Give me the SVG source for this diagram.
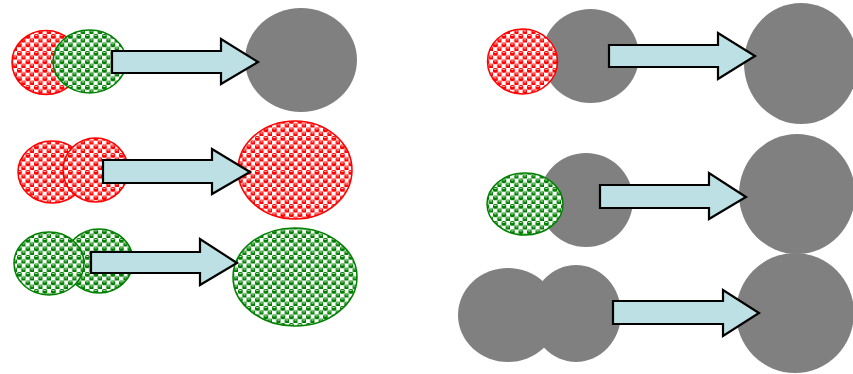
<svg xmlns="http://www.w3.org/2000/svg" width="853" height="374" viewBox="0 0 853 374">
<defs>
<pattern id="pr" width="8.5" height="8.5" patternUnits="userSpaceOnUse">
<rect width="8.5" height="8.5" fill="#fff"/>
<rect x="0" y="0" width="4.8" height="4.8" rx="1.6" fill="#ff0000"/>
<rect x="4.25" y="4.25" width="4.8" height="4.8" rx="1.6" fill="#ff0000"/>
<rect x="1.2" y="1" width="2.2" height="0.8" fill="#fff"/>
<rect x="5.45" y="5.25" width="2.2" height="0.8" fill="#fff"/>
</pattern>
<pattern id="pg" width="8.5" height="8.5" patternUnits="userSpaceOnUse">
<rect width="8.5" height="8.5" fill="#fff"/>
<rect x="0" y="0" width="4.8" height="4.8" rx="1.6" fill="#008000"/>
<rect x="4.25" y="4.25" width="4.8" height="4.8" rx="1.6" fill="#008000"/>
<rect x="1.2" y="1" width="2.2" height="0.8" fill="#fff"/>
<rect x="5.45" y="5.25" width="2.2" height="0.8" fill="#fff"/>
</pattern>
</defs>
<style>
.r{fill:url(#pr);stroke:#ff0000;stroke-width:1.5}
.g{fill:url(#pg);stroke:#008000;stroke-width:1.5}
.k{fill:#808080}
.a{fill:#bce0e3;stroke:#000;stroke-width:2.2;stroke-linejoin:miter}
</style>
<g id="n-l1a"><ellipse class="r" cx="46" cy="62.5" rx="34" ry="32"/></g>
<g id="n-l1b"><ellipse class="g" cx="89.5" cy="61.5" rx="36.5" ry="31.5"/></g>
<g id="n-l1c"><ellipse class="k" cx="301" cy="60" rx="56" ry="52"/></g>
<g id="n-l2a"><ellipse class="r" cx="52" cy="172" rx="34" ry="31"/></g>
<g id="n-l2b"><ellipse class="r" cx="95.5" cy="170" rx="32.5" ry="32"/></g>
<g id="n-l2c"><ellipse class="r" cx="295" cy="170" rx="57" ry="49"/></g>
<g id="n-l3b"><ellipse class="g" cx="99" cy="261" rx="34" ry="32"/></g>
<g id="n-l3a"><ellipse class="g" cx="49" cy="263.5" rx="35" ry="31.5"/></g>
<g id="n-l3c"><ellipse class="g" cx="295" cy="277" rx="62" ry="49"/></g>
<g id="n-r1b"><ellipse class="k" cx="590.5" cy="56" rx="48.5" ry="47"/></g>
<g id="n-r1a"><ellipse class="r" cx="522.5" cy="61.5" rx="35" ry="32.5"/></g>
<g id="n-r1c"><ellipse class="k" cx="801" cy="63.5" rx="57" ry="60.5"/></g>
<g id="n-r2b"><ellipse class="k" cx="586" cy="200" rx="47" ry="47"/></g>
<g id="n-r2a"><ellipse class="g" cx="525" cy="204" rx="38" ry="31"/></g>
<g id="n-r2c"><ellipse class="k" cx="797" cy="194" rx="58" ry="60"/></g>
<g id="n-r3a"><ellipse class="k" cx="508" cy="315" rx="50" ry="47"/></g>
<g id="n-r3b"><ellipse class="k" cx="576" cy="313.5" rx="45" ry="48.5"/></g>
<g id="n-r3c"><ellipse class="k" cx="795" cy="313" rx="59" ry="60"/></g>
<g id="connectors">
<polygon class="a" points="112,51 221,51 221,39 258,62 221,84 221,73 112,73"/>
<polygon class="a" points="103,160 212,160 212,149 250,172 212,194 212,183 103,183"/>
<polygon class="a" points="91,252 200,252 200,239 237,263 200,285 200,273 91,273"/>
<polygon class="a" points="609,45 718,45 718,33 755,56 718,79 718,67 609,67"/>
<polygon class="a" points="600,185 709,185 709,173 746,197 709,219 709,208 600,208"/>
<polygon class="a" points="613,301 723,301 723,290 759,313 723,336 723,324 613,324"/>
</g>
</svg>
